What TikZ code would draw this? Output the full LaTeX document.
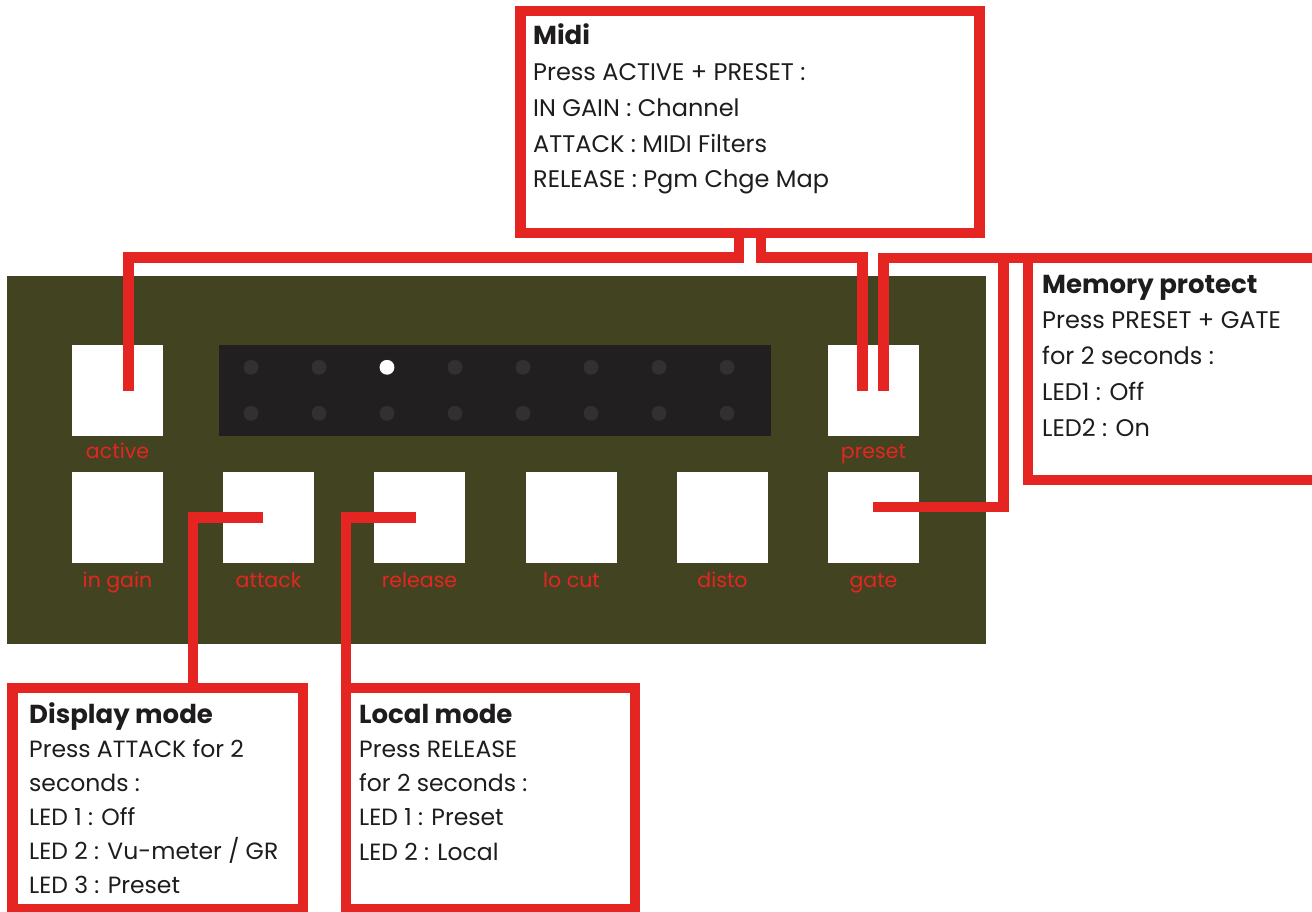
\documentclass[tikz,border=0pt]{standalone}
\usepackage{fontspec}
\setmainfont{Poppins}
\usetikzlibrary{calc}
\definecolor{panelc}{RGB}{66,67,32}
\definecolor{dispc}{RGB}{34,31,32}
\definecolor{ledoff}{RGB}{50,48,50}
\definecolor{redc}{RGB}{229,37,33}
\definecolor{txtc}{RGB}{30,28,28}
\newcommand{\hd}[1]{\hbox{\fontsize{26}{30}\selectfont\bfseries #1}}
\begin{document}
\begin{tikzpicture}[x=1pt,y=-1pt,
  conn/.style={draw=redc,line width=10.5pt,line cap=butt,line join=miter},
  infobox/.style={draw=redc,line width=10.5pt,fill=white,inner sep=0pt,outer sep=0pt},
  btn/.style={fill=white,minimum width=91pt,minimum height=91pt,inner sep=0pt,outer sep=0pt},
  lbl/.style={text=redc,anchor=base,inner sep=0pt,font=\fontsize{20.5}{24}\selectfont},
  body/.style={text=txtc,anchor=base west,inner sep=0pt,font=\fontsize{24}{35.75}\selectfont},
  led/.style={circle,fill=ledoff,minimum size=14.8pt,inner sep=0pt}]
\useasboundingbox (0,0) rectangle (1312,912);
\clip (0,0) rectangle (1312,912);
% panel
\node[fill=panelc,minimum width=979pt,minimum height=368pt,inner sep=0pt] (panel) at (496.5,460) {};
\node[fill=dispc,minimum width=552pt,minimum height=91pt,inner sep=0pt] (disp) at (495,390.5) {};
\foreach \i in {0,...,7}{
  \node[led] (ledA\i) at (251+68*\i,367.3) {};
  \node[led] (ledB\i) at (251+68*\i,413.3) {};
}
\node[led,fill=white] (ledlit) at (387,367.3) {};
% buttons
\node[btn] (active) at (117.5,390.5) {};
\node[btn] (preset) at (873.5,390.5) {};
\node[btn] (ingain) at (117.5,517.5) {};
\node[btn] (attack) at (268.5,517.5) {};
\node[btn] (release) at (419.5,517.5) {};
\node[btn] (locut) at (571.5,517.5) {};
\node[btn] (disto) at (722.5,517.5) {};
\node[btn] (gate) at (873.5,517.5) {};
\node[lbl] (lactive) at (117.5,458) {active};
\node[lbl] (lpreset) at (873.5,458) {preset};
\node[lbl] (lingain) at (117.5,587) {in gain};
\node[lbl] (lattack) at (268.5,587) {attack};
\node[lbl] (lrelease) at (419.5,587) {release};
\node[lbl] (llocut) at (571.5,587) {lo cut};
\node[lbl] (ldisto) at (722.5,587) {disto};
\node[lbl] (lgate) at (873.5,587) {gate};
% info boxes
\node[infobox,minimum width=459pt,minimum height=222pt] (midi) at (750,122) {};
\node[infobox,minimum width=312pt,minimum height=222pt] (mem) at (1184,369) {};
\node[infobox,minimum width=290.5pt,minimum height=221pt] (dispbox) at (157.75,798.5) {};
\node[infobox,minimum width=289pt,minimum height=221pt] (loc) at (490.5,798.5) {};
% connectors
\draw[conn] ($(midi.south)+(-11,0)$) -- ++(0,24.5) -| ($(active.center)+(11,0)$);
\draw[conn] ($(midi.south)+(11,0)$) -- ++(0,24.5) -| ($(preset.center)+(-11,0)$);
\draw[conn] ($(preset.center)+(10,0)$) |- (mem.north west);
\draw[conn] ($(gate.center)+(-0.5,-10.5)$) -| ($(mem.north west)+(-24.5,0)$);
\draw[conn] ($(attack.center)+(-5.5,0)$) -| ($(dispbox.north west)+(180.5,0)$);
\draw[conn] ($(release.center)+(-3.5,0)$) -| (loc.north west);
% texts
\node[body] (midiT) at (533,45) {\vtop{\hd{Midi}\hbox{Press ACTIVE + PRESET :}\hbox{IN GAIN : Channel}\hbox{ATTACK : MIDI Filters}\hbox{RELEASE : Pgm Chge Map}}};
\node[body] (memT) at (1042,293) {\vtop{\hd{Memory protect}\hbox{Press PRESET + GATE}\hbox{for 2 seconds :}\hbox{LED1 : Off}\hbox{LED2 : On}}};
\node[body,font=\fontsize{23.5}{34}\selectfont] (dispT) at (29,723) {\vtop{\hd{Display mode}\hbox{Press ATTACK for 2}\hbox{seconds :}\hbox{LED 1 : Off}\hbox{LED 2 : Vu-meter / GR}\hbox{LED 3 : Preset}}};
\node[body,font=\fontsize{23.5}{34.25}\selectfont] (locT) at (359,723) {\vtop{\hd{Local mode}\hbox{Press RELEASE}\hbox{for 2 seconds :}\hbox{LED 1 : Preset}\hbox{LED 2 : Local}}};
\end{tikzpicture}
\end{document}
